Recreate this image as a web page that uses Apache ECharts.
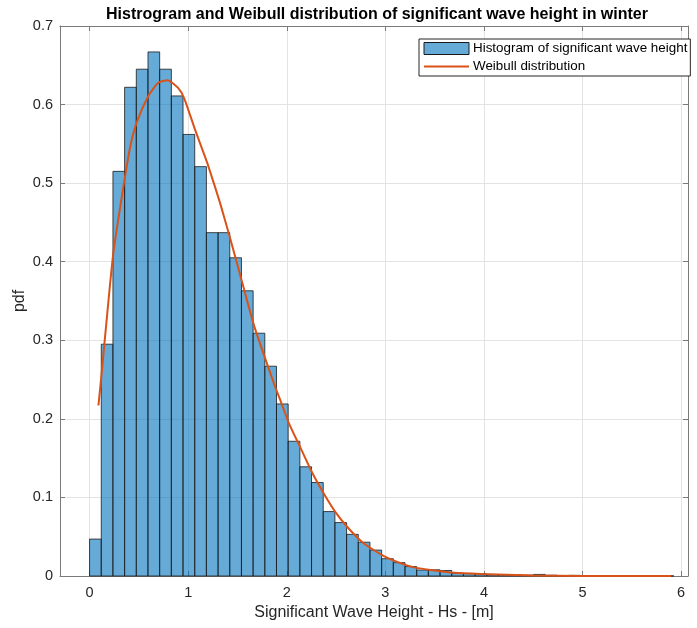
<!DOCTYPE html>
<html>
<head>
<meta charset="utf-8">
<script src="https://cdn.jsdelivr.net/npm/echarts@6/dist/echarts.min.js"></script>
<style>
  html, body { margin: 0; padding: 0; background: #fff; }
  #chart { width: 697px; height: 628px; }
</style>
</head>
<body>
<div id="chart"></div>
<script>
// histogram: bins start at 0, equal width
const binStart = 0
const binWidth = 0.1185
const binPdf = [
  0.047, 0.295, 0.515, 0.622, 0.645, 0.667, 0.645, 0.611, 0.562, 0.521,
  0.437, 0.437, 0.405, 0.363, 0.309, 0.267, 0.219, 0.1715, 0.139, 0.119,
  0.082, 0.068, 0.053, 0.043, 0.033, 0.022, 0.017, 0.012, 0.0076, 0.0079,
  0.007, 0.0036, 0.003, 0.0028, 0.0015, 0.0015, 0.0015, 0.001, 0.002, 0.001,
  0.0005, 0.0008, 0.0003, 0.0002, 0, 0.0002, 0, 0, 0, 0.0002
]

// fitted Weibull pdf
const weibullX = [0.09, 0.12, 0.18, 0.24, 0.33, 0.41, 0.48, 0.6, 0.7, 0.79,
  0.9, 0.96, 1.07, 1.19, 1.26, 1.33, 1.43, 1.56, 1.67, 1.87,
  1.94, 2.02, 2.14, 2.26, 2.38, 2.49, 2.61, 2.75, 2.87, 2.99,
  3.12, 3.29, 3.46, 3.7, 3.97, 4.5, 5.0, 5.9]
const weibullY = [0.217, 0.255, 0.335, 0.41, 0.485, 0.545, 0.578, 0.612, 0.628, 0.631,
  0.621, 0.608, 0.568, 0.527, 0.500, 0.472, 0.428, 0.368, 0.318, 0.245,
  0.222, 0.195, 0.163, 0.131, 0.104, 0.082, 0.063, 0.045, 0.034, 0.025,
  0.018, 0.011, 0.0076, 0.004, 0.0025, 0.0006, 0.0001, 0]

const xTicks = [0, 1, 2, 3, 4, 5, 6]

const histName = "Histogram of significant wave height"
const fitName = "Weibull distribution"

const histData = binPdf.map((h, i) => [binStart + i * binWidth, binStart + (i + 1) * binWidth, h])
const fitData = weibullX.map((x, i) => [x, weibullY[i]])

const axisColor = "#7a7a7a"
const textColor = "#262626"
const gridColor = "#e3e3e3"
const font = "Liberation Sans"

const chart = echarts.init(document.getElementById("chart"))

const xBase = {
  type: "value",
  min: -0.3,
  max: 6.07,
  axisLine: { show: true, onZero: false, lineStyle: { color: axisColor, width: 1 } },
  axisTick: { show: true, inside: true, length: 5, customValues: xTicks, lineStyle: { color: axisColor } },
  splitLine: { show: false }
}
const yBase = {
  type: "value",
  min: 0,
  max: 0.7,
  interval: 0.1,
  axisLine: { show: true, onZero: false, lineStyle: { color: axisColor, width: 1 } },
  axisTick: { show: true, inside: true, length: 5, lineStyle: { color: axisColor } },
  splitLine: { show: false }
}

chart.setOption({
  animation: false,
  textStyle: { fontFamily: font },
  title: {
    text: "Histrogram and Weibull distribution of significant wave height in winter",
    left: 372,
    textAlign: "center",
    top: 2,
    textStyle: { fontFamily: font, fontSize: 16, fontWeight: "bold", color: "#000" }
  },
  legend: {
    orient: "vertical",
    left: 419,
    top: 39,
    padding: [3, 3, 3, 4],
    itemGap: 5,
    itemWidth: 45,
    itemHeight: 12,
    backgroundColor: "#fff",
    borderColor: "#262626",
    borderWidth: 1,
    borderRadius: 0,
    textStyle: { fontFamily: font, fontSize: 13.4, color: "#000", padding: [0, 0, 0, -1] },
    data: [
      { name: histName, icon: "rect", itemStyle: { color: "rgba(0,114,189,0.6)", borderColor: "#1a1a1a", borderWidth: 1 } },
      { name: fitName, itemStyle: { opacity: 0 }, lineStyle: { color: "#D95319", width: 2, opacity: 1 } }
    ]
  },
  grid: { left: 60, top: 26, right: 9, bottom: 52, containLabel: false },
  xAxis: [
    Object.assign({}, xBase, {
      position: "bottom",
      name: "Significant Wave Height - Hs - [m]",
      nameLocation: "middle",
      nameGap: 27,
      nameTextStyle: { fontFamily: font, fontSize: 16, color: textColor },
      axisLabel: { show: true, customValues: xTicks, margin: 9, fontSize: 14.5, color: textColor, fontFamily: font },
      splitLine: { show: true, lineStyle: { color: gridColor, width: 1 } }
    }),
    Object.assign({}, xBase, { position: "top", axisLabel: { show: false } })
  ],
  yAxis: [
    Object.assign({}, yBase, {
      position: "left",
      name: "pdf",
      nameLocation: "middle",
      nameGap: 32,
      nameMoveOverlap: false,
      nameTextStyle: { fontFamily: font, fontSize: 16, color: textColor },
      axisLabel: { show: true, margin: 7, fontSize: 14.5, color: textColor, fontFamily: font },
      splitLine: { show: true, lineStyle: { color: gridColor, width: 1 } }
    }),
    Object.assign({}, yBase, { position: "right", axisLabel: { show: false } })
  ],
  series: [
    {
      name: histName,
      type: "custom",
      xAxisIndex: 0,
      yAxisIndex: 0,
      itemStyle: { color: "rgba(0,114,189,0.6)" },
      encode: { x: [0, 1], y: 2 },
      renderItem: function (params, api) {
        const p0 = api.coord([api.value(0), api.value(2)])
        const p1 = api.coord([api.value(1), 0])
        return {
          type: "rect",
          shape: { x: p0[0], y: p0[1], width: p1[0] - p0[0], height: p1[1] - p0[1] },
          style: { fill: "rgba(0,114,189,0.6)", stroke: "#1a1a1a", lineWidth: 0.8 }
        }
      },
      data: histData,
      z: 2
    },
    {
      name: fitName,
      type: "line",
      xAxisIndex: 0,
      yAxisIndex: 0,
      data: fitData,
      smooth: 0.2,
      symbol: "none",
      showSymbol: false,
      lineStyle: { color: "#D95319", width: 2 },
      itemStyle: { color: "#D95319" },
      z: 3
    }
  ]
})
</script>
</body>
</html>
